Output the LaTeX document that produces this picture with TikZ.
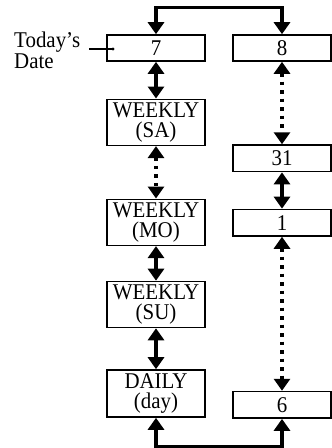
\documentclass[tikz,border=0pt]{standalone}
\usepackage{fontspec}
\setmainfont{Liberation Serif}[FakeStretch=0.93]
\usetikzlibrary{arrows.meta}
\tikzset{
  box/.style={draw, line width=1.6pt, inner sep=0pt, minimum width=98pt, align=center, font=\fontsize{22.5}{20.5}\selectfont},
  lbl/.style={anchor=base west, inner sep=0pt, font=\fontsize{22.5}{21}\selectfont},
  conn/.style={line width=3.4pt, arrows={Triangle[width=16pt,length=12pt]-Triangle[width=16pt,length=12pt]}},
  dotconn/.style={conn, dash pattern=on 3.5pt off 5pt}
}
\begin{document}
\begin{tikzpicture}[x=1pt,y=-1pt]
\useasboundingbox (0,0) rectangle (332,448);
% left column
\node[box, minimum height=26pt] (n7) at (156,48) {7};
\node[box, minimum height=46pt] (sa) at (156,122.3) {WEEKLY\\(SA)};
\node[box, minimum height=46pt] (mo) at (156,222.3) {WEEKLY\\(MO)};
\node[box, minimum height=46pt] (su) at (156,304.5) {WEEKLY\\(SU)};
\node[box, minimum height=47pt] (daily) at (156,393.5) {DAILY\\(day)};
% right column
\node[box, minimum height=26pt] (n8) at (282,48) {8};
\node[box, minimum height=26.5pt] (n31) at (282,158.3) {31};
\node[box, minimum height=26.5pt] (n1) at (282,222.7) {1};
\node[box, minimum height=26.5pt] (n6) at (282,404.8) {6};
% label
\node[lbl] (today) at (14,47) {Today's};
\node[lbl] (date) at (14,68) {Date};
\coordinate (dot) at (113,49);
\coordinate (lblend) at (89,49);
\draw[line width=1.1pt] (lblend) -- (dot);
\fill (dot) circle (1.7pt);
% connectors
\draw[conn] (n7.north) -- ++(0,-27) -| (n8.north);
\draw[conn] (n7.south) -- (sa.north);
\draw[dotconn] (sa.south) -- (mo.north);
\draw[conn] (mo.south) -- (su.north);
\draw[conn] (su.south) -- (daily.north);
\draw[conn] (daily.south) -- ++(0,29) -| (n6.south);
\draw[dotconn] (n8.south) -- (n31.north);
\draw[conn] (n31.south) -- (n1.north);
\draw[dotconn] (n1.south) -- (n6.north);
\end{tikzpicture}
\end{document}
